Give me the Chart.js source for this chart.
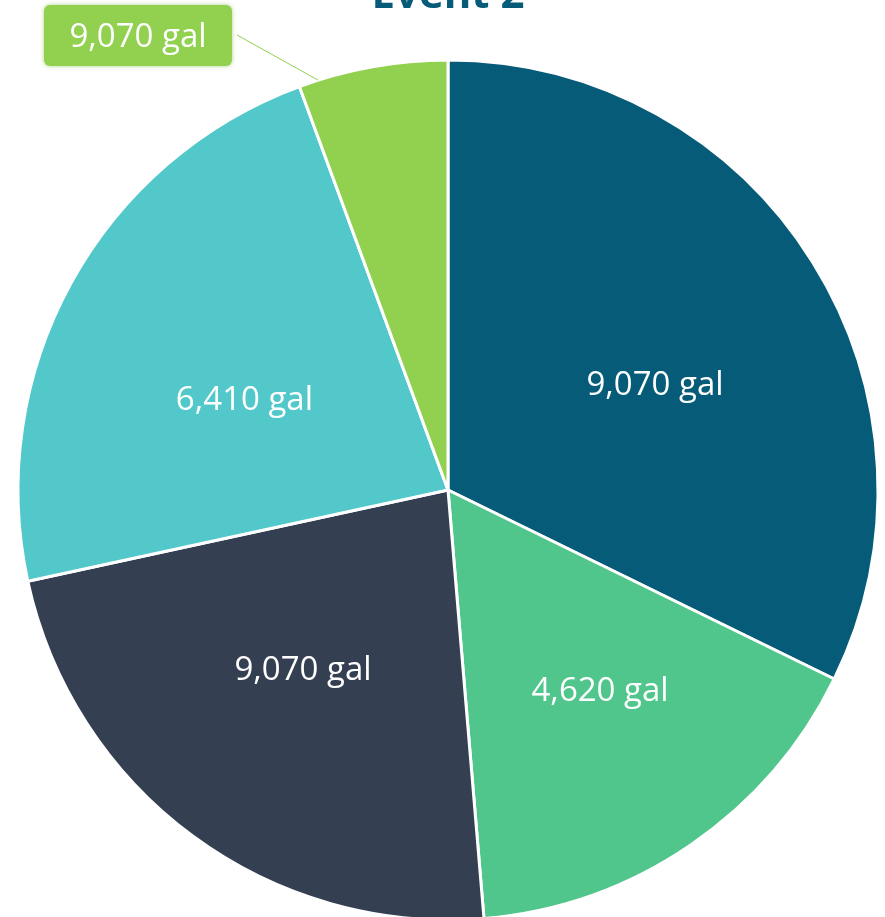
<!DOCTYPE html>
<html>
<head>
<meta charset="utf-8">
<script src="https://cdn.jsdelivr.net/npm/chart.js@4/dist/chart.umd.min.js"></script>
<style>
  html, body { margin: 0; padding: 0; background: #fff; overflow: hidden; }
  body { width: 885px; height: 917px; position: relative; }
  #wrap { position: absolute; left: 0; top: -40px; width: 885px; height: 962px; }
</style>
</head>
<body>
<div id="wrap"><canvas id="myChart" width="885" height="962"></canvas></div>
<script>
// Gallons per slice, clockwise from 12 o'clock
const slices = ['A', 'B', 'C', 'D', 'E'];
const gallons = [9070, 4620, 6450, 6410, 1580];
// Label text shown on each slice
const sliceLabels = ['9,070 gal', '4,620 gal', '9,070 gal', '6,410 gal', '9,070 gal'];
const sliceColors = ['#065b79', '#50c58c', '#353f52', '#52c8cb', '#92d050'];

// small nudges so labels sit where the layout wants them
const labelNudge = [[10, 19], [21, 10], [-7, -6], [0, 22], [0, 0]];

// Draws the value labels; the small last slice gets a callout box
const labelPlugin = {
    id: 'sliceLabels',
    afterDatasetsDraw(chart) {
        const ctx = chart.ctx;
        const arcs = chart.getDatasetMeta(0).data;
        ctx.save();
        ctx.font = '33px "Open Sans"';
        ctx.textAlign = 'center';
        ctx.textBaseline = 'middle';
        arcs.forEach((arc, i) => {
            const p = arc.getProps(['x', 'y', 'startAngle', 'endAngle', 'outerRadius'], true);
            if (i === 4) {
                // leader line from the box to the rim
                const a = p.startAngle + 0.13 * (p.endAngle - p.startAngle);
                const ex = p.x + Math.cos(a) * p.outerRadius;
                const ey = p.y + Math.sin(a) * p.outerRadius;
                ctx.strokeStyle = '#92d050';
                ctx.lineWidth = 1;
                ctx.beginPath();
                ctx.moveTo(237, 75);
                ctx.lineTo(ex, ey);
                ctx.stroke();
                // box
                ctx.save();
                ctx.shadowColor = 'rgba(120,180,60,0.6)';
                ctx.shadowBlur = 4;
                ctx.fillStyle = '#92d050';
                ctx.beginPath();
                ctx.roundRect(44, 45, 188, 61, 6);
                ctx.fill();
                ctx.restore();
                ctx.fillStyle = '#fff';
                ctx.fillText(sliceLabels[i], 138, 78);
                return;
            }
            const mid = (p.startAngle + p.endAngle) / 2;
            const r = p.outerRadius * 0.54;
            const [nx, ny] = labelNudge[i];
            ctx.fillStyle = '#fff';
            ctx.fillText(sliceLabels[i], p.x + Math.cos(mid) * r + nx, p.y + Math.sin(mid) * r + ny);
        });
        ctx.restore();
    }
};

const config = {
    type: 'pie',
    data: {
        labels: slices,
        datasets: [{
            data: gallons,
            backgroundColor: sliceColors,
            borderColor: '#ffffff',
            borderWidth: 3
        }]
    },
    options: {
        responsive: false,
        animation: false,
        events: [],
        layout: {
            padding: { left: 16.5, right: 5.5, top: 0, bottom: 0.5 }
        },
        plugins: {
            legend: { display: false },
            tooltip: { enabled: false },
            title: {
                display: true,
                text: 'Event 2',
                color: '#065b79',
                font: { family: '"Open Sans"', size: 42, weight: 'bold', lineHeight: 1.2 },
                padding: { top: 10.8, bottom: 37.3 }
            }
        }
    },
    plugins: [labelPlugin]
};

const myChart = new Chart(document.getElementById('myChart'), config);
</script>
</body>
</html>
